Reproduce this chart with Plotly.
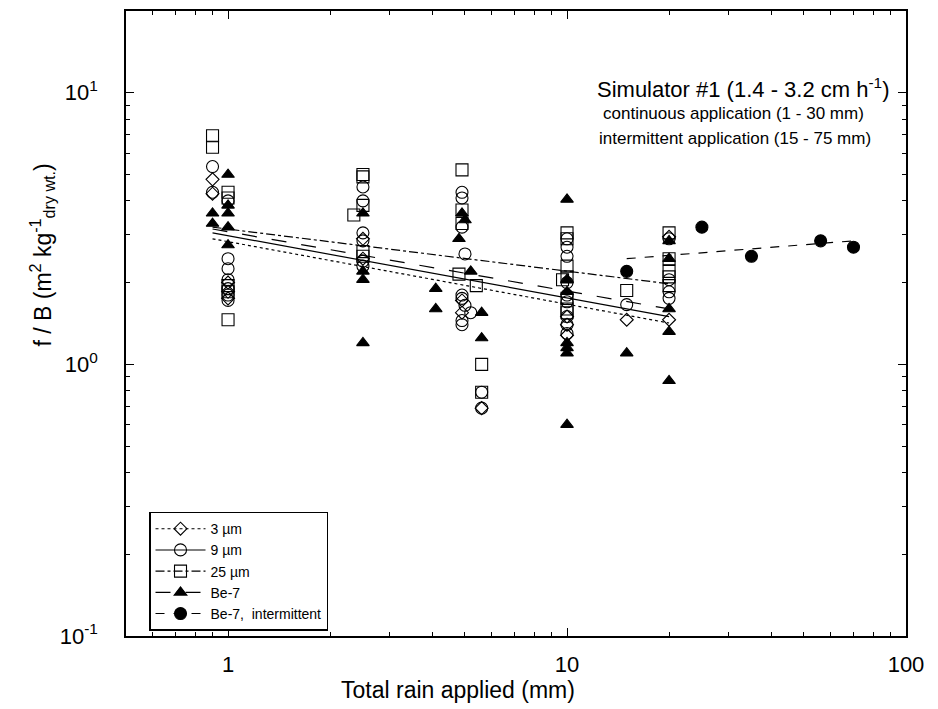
import plotly.graph_objects as go

# ---------------- data ----------------
d3_x = [0.9, 0.9, 1, 1, 1, 2.5, 2.5, 4.9, 4.9, 5.6, 10, 10, 10, 15, 20, 20]
d3_y = [4.8, 4.25, 2.0, 1.85, 1.75, 2.45, 2.9, 1.72, 1.55, 0.69, 1.28, 1.4, 1.5, 1.46, 2.95, 1.46]

d9_x = [0.9, 0.9, 1, 1, 1, 1, 1, 1, 1,
        2.5, 2.5, 2.5, 2.5, 2.5, 2.5,
        4.9, 4.9, 4.9, 5.0, 4.9, 4.9, 5.0, 5.2, 4.9, 4.9, 5.6, 5.6,
        10, 10, 10, 10, 10, 10, 10, 10, 10,
        15, 20, 20, 20, 20]
d9_y = [5.35, 4.3, 4.0, 2.45, 2.25, 2.05, 1.9, 1.8, 1.72,
        4.5, 4.0, 3.05, 2.85, 2.4, 2.3,
        4.3, 4.1, 3.2, 2.55, 1.8, 1.75, 1.65, 1.55, 1.45, 1.4, 0.79, 0.69,
        2.9, 2.7, 2.5, 2.0, 1.8, 1.7, 1.5, 1.4, 1.3,
        1.66, 2.9, 2.05, 1.85, 1.75]

d25_x = [0.9, 0.9, 1, 1, 1, 1, 1,
         2.5, 2.5, 2.5, 2.35, 2.5, 2.5,
         4.9, 4.9, 4.9, 4.8, 5.4, 5.6, 5.6,
         10, 10, 10, 9.7, 10, 10, 10, 10,
         15, 20, 20, 20, 20, 20]
d25_y = [6.95, 6.3, 4.3, 4.1, 1.95, 1.85, 1.46,
         5.0, 4.9, 3.85, 3.55, 2.6, 2.5,
         5.2, 3.7, 3.3, 2.15, 1.95, 1.0, 0.79,
         3.05, 2.9, 2.3, 2.05, 2.1, 1.75, 1.6, 1.55,
         1.87, 3.05, 2.45, 2.2, 2.1, 1.95]

be7_x = [0.9, 0.9, 1, 1, 1, 1, 1,
         2.5, 2.5, 2.5, 2.5,
         4.1, 4.1, 4.9, 5.0, 4.8, 5.2, 5.6, 5.6,
         10, 10, 10, 10, 10, 10, 10,
         15, 20, 20, 20, 20, 20]
be7_y = [3.6, 3.3, 5.0, 3.85, 3.6, 3.2, 2.75,
         3.6, 2.2, 2.05, 1.2,
         1.9, 1.6, 3.6, 3.4, 2.9, 2.2, 1.55, 1.25,
         4.05, 2.05, 1.85, 1.2, 1.15, 1.1, 0.6,
         1.1, 2.85, 2.45, 1.6, 1.32, 0.87]

bei_x = [15, 25, 35, 56, 70]
bei_y = [2.2, 3.2, 2.5, 2.85, 2.7]

# power-law fit lines (end points)
fit3_x, fit3_y = [0.9, 20], [2.9, 1.42]
fit9_x, fit9_y = [0.9, 20], [3.05, 1.5]
fit25_x, fit25_y = [0.9, 20], [3.2, 1.98]
fitbe_x, fitbe_y = [0.9, 20], [3.15, 1.6]
fitbi_x, fitbi_y = [15, 70], [2.45, 2.85]

names = ["3 \u00b5m", "9 \u00b5m", "25 \u00b5m", "Be-7", "Be-7,  intermittent"]

x_ticks = [1, 10, 100]
x_ticktext = ["1", "10", "100"]
x_minor = [0.6, 0.7, 0.8, 0.9, 2, 3, 4, 5, 6, 7, 8, 9, 20, 30, 40, 50, 60, 70, 80, 90]
y_ticks = [0.1, 1, 10]
y_ticktext = ["10<sup>-1</sup>", "10<sup>0</sup>", "10<sup>1</sup>"]
y_minor = [0.2, 0.3, 0.4, 0.5, 0.6, 0.7, 0.8, 0.9, 2, 3, 4, 5, 6, 7, 8, 9, 20]

# ---------------- figure ----------------
FONT = "Liberation Sans, Arial, Helvetica, sans-serif"
fig = go.Figure()

series = [
    (d3_x, d3_y, fit3_x, fit3_y, "diamond-open", "dot", 10),
    (d9_x, d9_y, fit9_x, fit9_y, "circle-open", "solid", 12),
    (d25_x, d25_y, fit25_x, fit25_y, "square-open", "dashdot", 12),
    (be7_x, be7_y, fitbe_x, fitbe_y, "triangle-up", "longdash", 11),
    (bei_x, bei_y, fitbi_x, fitbi_y, "circle", "dash", 12),
]

for i, (sx, sy, fx, fy, sym, dash, size) in enumerate(series):
    fig.add_trace(go.Scatter(
        x=fx, y=fy, mode="lines", showlegend=False,
        line=dict(color="black", width=1.2, dash=dash), hoverinfo="skip"))
    fig.add_trace(go.Scatter(
        x=sx, y=sy, mode="markers", showlegend=False, name=names[i],
        marker=dict(symbol=sym, size=size, color="black",
                    line=dict(color="black", width=1.1))))
    fig.add_trace(go.Scatter(
        x=[None], y=[None], mode="lines+markers", name=names[i],
        marker=dict(symbol=sym, size=size, color="black",
                    line=dict(color="black", width=1.1)),
        line=dict(color="black", width=1.1, dash=dash)))

axis_common = dict(
    type="log", showgrid=False, zeroline=False,
    showline=True, linecolor="black", linewidth=1.5, mirror="allticks",
    ticks="inside", ticklen=8, tickwidth=1, tickcolor="black",
    tickfont=dict(family=FONT, size=22, color="black"),
)

fig.update_xaxes(**axis_common, range=[-0.30103, 2], tickvals=x_ticks, ticktext=x_ticktext,
                 ticklabelstandoff=8,
                 minor=dict(ticks="inside", ticklen=4, tickvals=x_minor, tickcolor="black"))
fig.update_yaxes(**axis_common, range=[-1, 1.30103], tickvals=y_ticks, ticktext=y_ticktext,
                 ticklabelstandoff=22,
                 minor=dict(ticks="inside", ticklen=4, tickvals=y_minor, tickcolor="black"))

fig.update_layout(
    width=938, height=709,
    margin=dict(l=126, r=32, t=9, b=73),
    paper_bgcolor="white", plot_bgcolor="white",
    font=dict(family=FONT, color="black"),
    legend=dict(x=0.0295, y=0.199, xanchor="left", yanchor="top",
                bgcolor="white", bordercolor="black", borderwidth=1.5,
                font=dict(family=FONT, size=14, color="black"),
                itemwidth=50, tracegroupgap=0),
    annotations=[
        dict(text="Simulator #1 (1.4 - 3.2 cm h<sup>-1</sup>)", xref="paper", yref="paper",
             x=0.791, y=0.877, xanchor="center", yanchor="middle", showarrow=False,
             font=dict(size=22, family=FONT)),
        dict(text="continuous application (1 - 30 mm)", xref="paper", yref="paper",
             x=0.779, y=0.836, xanchor="center", yanchor="middle", showarrow=False,
             font=dict(size=17, family=FONT)),
        dict(text="intermittent application (15 - 75 mm)", xref="paper", yref="paper",
             x=0.781, y=0.796, xanchor="center", yanchor="middle", showarrow=False,
             font=dict(size=17, family=FONT)),
        dict(text="Total rain applied (mm)", xref="paper", yref="paper",
             x=0.425, y=-0.087, xanchor="center", yanchor="middle", showarrow=False,
             font=dict(size=23, family=FONT)),
        dict(text="f / B (m<sup>2</sup> kg<sup>-1</sup><sub>dry wt.</sub>)", xref="paper", yref="paper",
             x=-0.108, y=0.61, xanchor="center", yanchor="middle", showarrow=False,
             textangle=-90, font=dict(size=23, family=FONT)),
    ],
)

fig.write_html("out.html", config={"displayModeBar": False},
               post_script=["document.body.style.margin='0px';"])
